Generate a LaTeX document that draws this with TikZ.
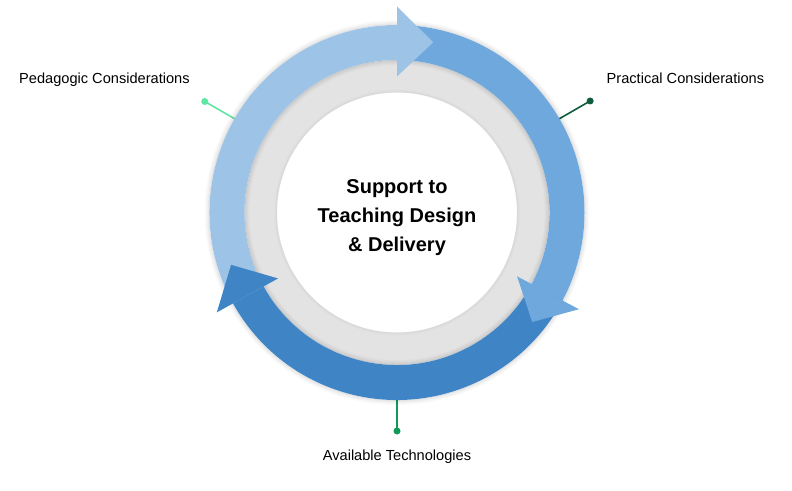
\documentclass[tikz,border=0pt]{standalone}
\usepackage{fontspec}
\setmainfont{Liberation Sans}
\definecolor{lightc}{HTML}{9DC3E6}
\definecolor{medc}{HTML}{6FA8DC}
\definecolor{darkc}{HTML}{3F85C6}
\definecolor{grayc}{HTML}{E3E3E3}
\definecolor{pedc}{HTML}{5FE6A3}
\definecolor{pracc}{HTML}{0D5C3A}
\definecolor{availc}{HTML}{0F9A58}
\tikzset{
  dotn/.style={circle, inner sep=0pt, minimum size=7pt},
  conn/.style={line width=1.6pt},
  lbl/.style={font=\fontsize{14.6}{17}\selectfont, inner sep=0pt, text=black},
}
\begin{document}
\begin{tikzpicture}[x=1pt,y=1pt]
\useasboundingbox (0,0) rectangle (792,490);
\begin{scope}[shift={(397,277.5)}]
\coordinate (C) at (0,0);
% connectors
\node[dotn, fill=pedc] (pdot) at (150:222) {};
\coordinate (pend) at (150:175);
\draw[conn, pedc] (pdot.center) -- (pend);
\node[dotn, fill=pracc] (rdot) at (30:223) {};
\coordinate (rend) at (30:175);
\draw[conn, pracc] (rdot.center) -- (rend);
\node[dotn, fill=availc] (adot) at (270:218.5) {};
\coordinate (aend) at (270:175);
\draw[conn, availc] (adot.center) -- (aend);
% outer soft shadow
\foreach \r/\o in {188/0.10,189/0.07,190/0.05,191/0.03,192/0.015}
  \draw[black, opacity=\o, line width=1pt] (C) circle[radius=\r];
% gray annulus
\fill[grayc, even odd rule] (C) circle[radius=152.5] (C) circle[radius=120];
% shadow inside gray ring
\foreach \r/\o in {152/0.10,151/0.07,150/0.05,149/0.03,148/0.015}
  \draw[black, opacity=\o, line width=1pt] (C) circle[radius=\r];
\foreach \r/\o in {120.5/0.04,121.5/0.025,122.5/0.01}
  \draw[black, opacity=\o, line width=1pt] (C) circle[radius=\r];
% bands
\fill[lightc] (209:187.5) arc[start angle=209, end angle=90, radius=187.5]
  -- (90:152.5) arc[start angle=90, end angle=209, radius=152.5] -- cycle;
\fill[medc] (90:187.5) arc[start angle=90, end angle=-28, radius=187.5]
  -- (-28:152.5) arc[start angle=-28, end angle=90, radius=152.5] -- cycle;
\fill[darkc] (-28:187.5) arc[start angle=-28, end angle=-151, radius=187.5]
  -- (-151:152.5) arc[start angle=-151, end angle=-28, radius=152.5] -- cycle;
% heads
\fill[lightc] (90:136) -- (90:206) -- (78:174) -- cycle;
\fill[medc] (-28:136) -- (-28:206) -- (-39:174) -- cycle;
\fill[darkc] (-151:136) -- (-151:206) -- (-162.5:174) -- cycle;
% center text
\node[align=center, font=\bfseries\fontsize{20}{29}\selectfont, text=black] (title) at (0,-5.5)
  {Support to\\Teaching Design\\\& Delivery};
\end{scope}
% labels
\node[lbl, anchor=base west] (ped) at (19,406) {Pedagogic Considerations};
\node[lbl, anchor=base west] (prac) at (606.5,406) {Practical Considerations};
\node[lbl, anchor=base] (avail) at (397,30) {Available Technologies};
\end{tikzpicture}
\end{document}
